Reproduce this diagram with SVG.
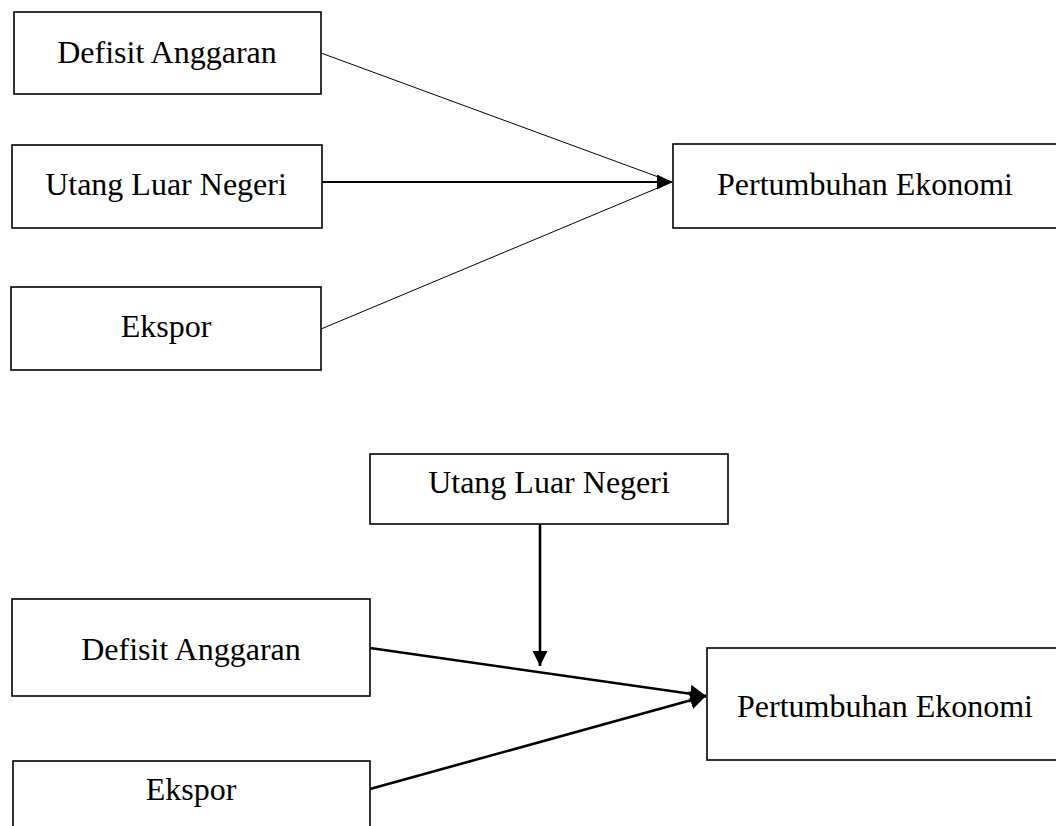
<svg xmlns="http://www.w3.org/2000/svg" width="1056" height="826" viewBox="0 0 1056 826">
  <style>
    .box { fill: #ffffff; stroke: #000000; stroke-width: 1.6; }
    .lbl { font-family: "Liberation Serif", "Times New Roman", serif; font-size: 32px; fill: #000000; text-anchor: middle; }
    .thin { stroke: #000000; stroke-width: 1; fill: none; }
    .mid { stroke: #000000; stroke-width: 2.2; fill: none; }
    .thick { stroke: #000000; stroke-width: 2.6; fill: none; }
  </style>
  <defs>
    <marker id="arrow" viewBox="0 0 15 15" refX="15" refY="7.5" markerWidth="15" markerHeight="15" markerUnits="userSpaceOnUse" orient="auto">
      <path d="M0,0 L15,7.5 L0,15 z" fill="#000000"/>
    </marker>
    <marker id="arrowB" viewBox="0 0 16 18" refX="16" refY="9" markerWidth="16" markerHeight="18" markerUnits="userSpaceOnUse" orient="auto">
      <path d="M0,0 L16,9 L0,18 z" fill="#000000"/>
    </marker>
  </defs>

  <rect width="1056" height="826" fill="#ffffff"/>

  <g id="connectors">
    <line class="thin" x1="321" y1="53" x2="672" y2="182"/>
    <line class="mid" x1="322" y1="182" x2="672" y2="182" marker-end="url(#arrow)"/>
    <line class="thin" x1="321" y1="329" x2="672" y2="182"/>
    <line class="thick" x1="540" y1="524" x2="540" y2="666" marker-end="url(#arrow)"/>
    <line class="thick" x1="370" y1="648" x2="706" y2="696" marker-end="url(#arrowB)"/>
    <line class="thick" x1="370" y1="789" x2="706" y2="696" marker-end="url(#arrowB)"/>
  </g>

  <g id="top-defisit">
    <rect class="box" x="14" y="12" width="307" height="82"/>
    <text class="lbl" x="167" y="63">Defisit Anggaran</text>
  </g>
  <g id="top-utang">
    <rect class="box" x="12" y="145" width="310" height="83"/>
    <text class="lbl" x="166" y="195">Utang Luar Negeri</text>
  </g>
  <g id="top-ekspor">
    <rect class="box" x="11" y="287" width="310" height="83"/>
    <text class="lbl" x="166" y="337">Ekspor</text>
  </g>
  <g id="top-pertumbuhan">
    <rect class="box" x="673" y="144" width="390" height="84"/>
    <text class="lbl" x="865" y="195">Pertumbuhan Ekonomi</text>
  </g>

  <g id="bottom-utang">
    <rect class="box" x="370" y="454" width="358" height="70"/>
    <text class="lbl" x="549" y="493">Utang Luar Negeri</text>
  </g>
  <g id="bottom-defisit">
    <rect class="box" x="12" y="599" width="358" height="97"/>
    <text class="lbl" x="191" y="660">Defisit Anggaran</text>
  </g>
  <g id="bottom-ekspor">
    <rect class="box" x="13" y="761" width="357" height="80"/>
    <text class="lbl" x="191" y="800">Ekspor</text>
  </g>
  <g id="bottom-pertumbuhan">
    <rect class="box" x="707" y="648" width="360" height="112"/>
    <text class="lbl" x="885" y="717">Pertumbuhan Ekonomi</text>
  </g>
</svg>
